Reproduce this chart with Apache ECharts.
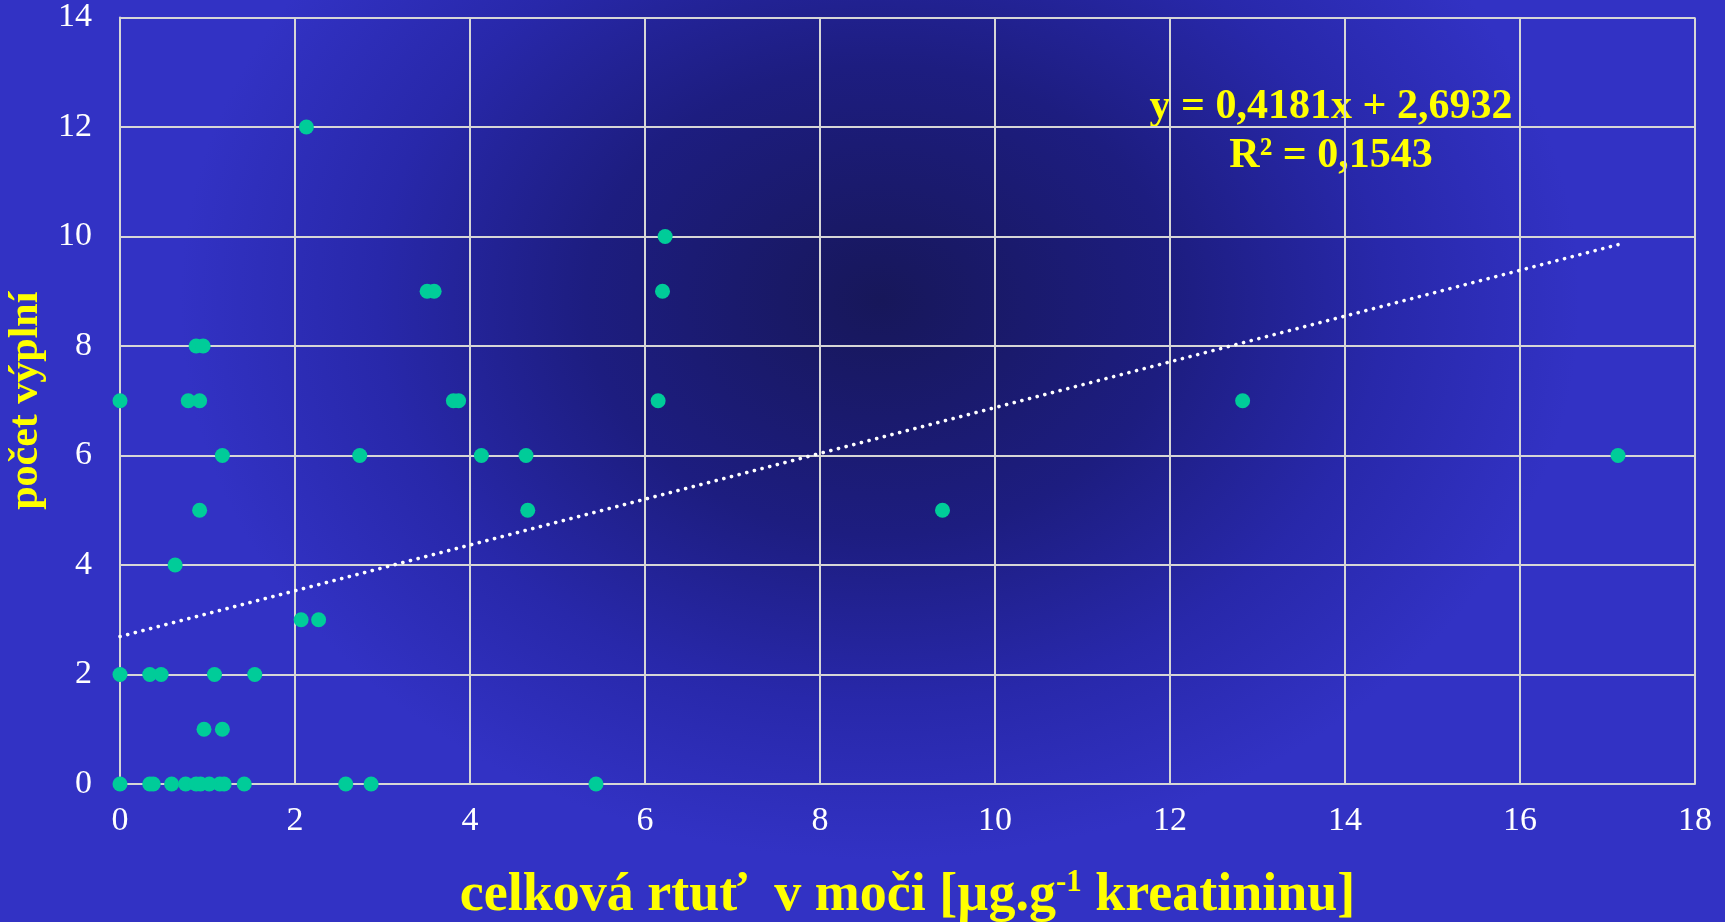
<!DOCTYPE html>
<html>
<head>
<meta charset="utf-8">
<script src="https://cdn.jsdelivr.net/npm/echarts@6/dist/echarts.min.js"></script>
<style>
  html, body { margin: 0; padding: 0; }
  body {
    width: 1725px; height: 922px; overflow: hidden;
    background: radial-gradient(ellipse 700px 560px at 880px 300px, #17175a 0%, #1d1d80 42%, #2828aa 72%, #3232c4 100%);
  }
  #chart { width: 1725px; height: 922px; }
</style>
</head>
<body>
<div id="chart"></div>
<script>
// celková rtuť v moči (x) vs. počet výplní (y)
const xValues = [
  0, 0.34, 0.38, 0.59, 0.75, 0.87, 0.92, 1.02, 1.14, 1.19, 1.42, 2.58, 2.87, 5.44,
  0.96, 1.17,
  0, 0.34, 0.47, 1.08, 1.54,
  2.07, 2.27,
  0.63,
  0.91, 4.66, 9.40,
  1.17, 2.74, 4.13, 4.64, 17.12,
  0, 0.78, 0.91, 3.81, 3.87, 6.15, 12.83,
  0.87, 0.95,
  3.51, 3.59, 6.20,
  6.23,
  2.13
];
const yValues = [
  0, 0, 0, 0, 0, 0, 0, 0, 0, 0, 0, 0, 0, 0,
  1, 1,
  2, 2, 2, 2, 2,
  3, 3,
  4,
  5, 5, 5,
  6, 6, 6, 6, 6,
  7, 7, 7, 7, 7, 7, 7,
  8, 8,
  9, 9, 9,
  10,
  12
];
const xTicks = [0, 2, 4, 6, 8, 10, 12, 14, 16, 18];
const yTicks = [0, 2, 4, 6, 8, 10, 12, 14];

// lineární trend z rovnice v grafu
const trendSlope = 0.4181;
const trendIntercept = 2.6932;
const equationText = 'y = 0,4181x + 2,6932\nR² = 0,1543';

const points = xValues.map((x, i) => [x, yValues[i]]);
const xMinData = Math.min(...xValues);
const xMaxData = Math.max(...xValues);
const trendLine = [
  [xMinData, trendSlope * xMinData + trendIntercept],
  [xMaxData, trendSlope * xMaxData + trendIntercept]
];

const serif = "'Liberation Serif', 'Times New Roman', serif";
const gridColor = '#d6d6d6';

const myChart = echarts.init(document.getElementById('chart'));

myChart.setOption({
  backgroundColor: 'transparent',
  animation: false,
  grid: {
    left: 120,
    right: 30,
    top: 17.5,
    bottom: 138,
    containLabel: false,
    outerBoundsMode: 'none'
  },
  xAxis: {
    type: 'value',
    min: xTicks[0],
    max: xTicks[xTicks.length - 1],
    interval: 2,
    axisLine: { show: true, lineStyle: { color: gridColor, width: 2 } },
    axisTick: { show: false },
    splitLine: { show: true, lineStyle: { color: gridColor, width: 2 } },
    axisLabel: { color: '#ffffff', fontFamily: serif, fontSize: 34, margin: 20 },
    name: 'celková rtuť  v moči [µg.g{sup|-1} kreatininu]',
    nameLocation: 'middle',
    nameGap: 83,
    nameTextStyle: {
      color: '#ffff00', fontFamily: serif, fontSize: 54, fontWeight: 'bold', lineHeight: 58,
      rich: {
        sup: { color: '#ffff00', fontFamily: serif, fontSize: 31, fontWeight: 'bold', verticalAlign: 'top', lineHeight: 58 }
      }
    }
  },
  yAxis: {
    type: 'value',
    min: yTicks[0],
    max: yTicks[yTicks.length - 1],
    interval: 2,
    axisLine: { show: true, lineStyle: { color: gridColor, width: 2 } },
    axisTick: { show: false },
    splitLine: { show: true, lineStyle: { color: gridColor, width: 2 } },
    axisLabel: { color: '#ffffff', fontFamily: serif, fontSize: 34, margin: 28 },
    name: 'počet výplní',
    nameLocation: 'middle',
    nameRotate: 90,
    nameGap: 56,
    nameTextStyle: { color: '#ffff00', fontFamily: serif, fontSize: 42, fontWeight: 'bold' }
  },
  graphic: [
    {
      type: 'text',
      x: 1331,
      y: 83,
      style: {
        text: equationText,
        align: 'center',
        verticalAlign: 'top',
        fill: '#ffff00',
        font: 'bold 42px ' + serif,
        lineHeight: 49
      }
    }
  ],
  series: [
    {
      name: 'trend',
      type: 'line',
      data: trendLine,
      showSymbol: false,
      symbol: 'none',
      silent: true,
      z: 3,
      lineStyle: { color: '#ffffff', width: 3.6, type: [0.1, 7.8], cap: 'round' }
    },
    {
      name: 'počet výplní',
      type: 'scatter',
      data: points,
      symbol: 'circle',
      symbolSize: 15,
      z: 4,
      itemStyle: { color: '#00cc99', opacity: 1 }
    }
  ]
});
</script>
</body>
</html>
